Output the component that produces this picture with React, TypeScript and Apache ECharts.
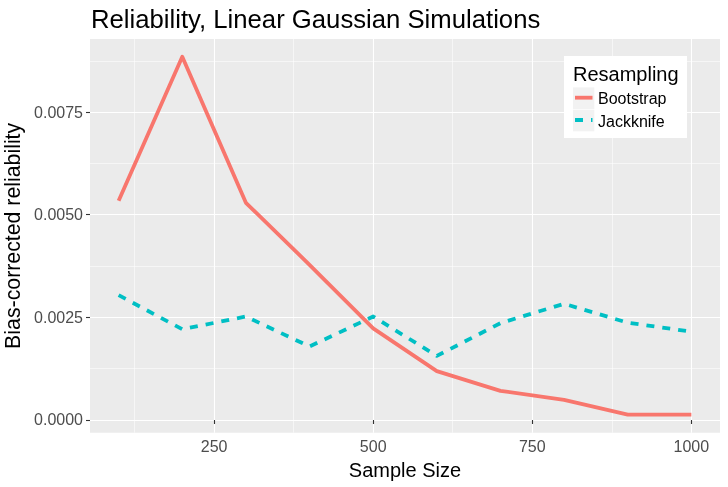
import React, { useEffect, useRef } from "react";
import * as echarts from "echarts";

const sampleSizes = [100, 200, 300, 400, 500, 600, 700, 800, 900, 1000];
const bootstrap = [0.00534, 0.00885, 0.00529, 0.00378, 0.00223, 0.00119, 0.00071, 0.00049, 0.00013, 0.00013];
const jackknife = [0.00304, 0.00221, 0.00252, 0.00179, 0.00252, 0.00156, 0.00236, 0.00283, 0.00237, 0.00215];
const seriesNames = ["Bootstrap", "Jackknife"];
const seriesColors = ["#F8766D", "#00BFC4"];
const xMajorTicks = [250, 500, 750, 1000];
const xMinorTicks = [125, 375, 625, 875];
const yMajorTicks = [0, 0.0025, 0.005, 0.0075];
const yMinorTicks = [0.00125, 0.00375, 0.00625, 0.00875];
const titleText = "Reliability, Linear Gaussian Simulations";
const xTitle = "Sample Size";
const yTitle = "Bias-corrected reliability";
const legendTitle = "Resampling";

const FONT = "'Liberation Sans', Arial, sans-serif";

export default function App() {
  const ref = useRef<HTMLDivElement>(null);
  useEffect(() => {
    if (!ref.current) return;
    const chart = echarts.init(ref.current, null, { renderer: "svg" });
    const xMin = 55, xMax = 1045;
    const yMin = -0.00031, yMax = 0.00928;
    const majorAxisX = {
      type: "value", min: xMin, max: xMax, position: "bottom",
      axisLine: { show: false },
      axisTick: { show: true, customValues: xMajorTicks, length: 4, lineStyle: { color: "#333333", width: 1.1 } },
      axisLabel: { show: true, customValues: xMajorTicks, fontSize: 16, color: "#4D4D4D", margin: 6, fontFamily: FONT,
        formatter: (v: number) => String(v) },
      splitLine: { show: true, lineStyle: { color: "#FFFFFF", width: 1.1 } },
      name: xTitle, nameLocation: "middle", nameGap: 26,
      nameTextStyle: { fontSize: 20, color: "#000000", fontFamily: FONT },
    };
    const minorAxisX = {
      type: "value", min: xMin, max: xMax, position: "bottom",
      axisLine: { show: false },
      axisTick: { show: false, customValues: xMinorTicks },
      axisLabel: { show: false, customValues: xMinorTicks },
      splitLine: { show: true, lineStyle: { color: "#FFFFFF", width: 0.55 } },
    };
    const majorAxisY = {
      type: "value", min: yMin, max: yMax, position: "left",
      axisLine: { show: false },
      axisTick: { show: true, customValues: yMajorTicks, length: 4, lineStyle: { color: "#333333", width: 1.1 } },
      axisLabel: { show: true, customValues: yMajorTicks, fontSize: 16, color: "#4D4D4D", margin: 7, fontFamily: FONT,
        formatter: (v: number) => v.toFixed(4) },
      splitLine: { show: true, lineStyle: { color: "#FFFFFF", width: 1.1 } },
      name: yTitle, nameLocation: "middle", nameGap: 57,
      nameTextStyle: { fontSize: 21.3, color: "#000000", fontFamily: FONT },
    };
    const minorAxisY = {
      type: "value", min: yMin, max: yMax, position: "left",
      axisLine: { show: false },
      axisTick: { show: false, customValues: yMinorTicks },
      axisLabel: { show: false, customValues: yMinorTicks },
      splitLine: { show: true, lineStyle: { color: "#FFFFFF", width: 0.55 } },
    };
    const seriesData = [bootstrap, jackknife];
    const legendGraphics: any[] = [
      { type: "rect", shape: { x: 564, y: 56, width: 123, height: 82 }, style: { fill: "#FFFFFF" }, z: 10 },
      { type: "text", x: 573, y: 74, style: { text: legendTitle, fontSize: 20, fill: "#000000", fontFamily: FONT, textVerticalAlign: "middle" }, z: 11 },
    ];
    seriesNames.forEach((name, i) => {
      const cy = 98.2 + i * 22.3;
      legendGraphics.push(
        { type: "rect", shape: { x: 573, y: cy - 10.8, width: 21.3, height: 21.6 }, style: { fill: "#F2F2F2" }, z: 11 },
        { type: "line", shape: { x1: 575, y1: cy - 0.5, x2: 592.5, y2: cy - 0.5 },
          style: { stroke: seriesColors[i], lineWidth: 3.8, lineDash: i === 1 ? [8, 8] : null, lineCap: "butt" }, z: 12 },
        { type: "text", x: 598, y: cy + 0.5, style: { text: name, fontSize: 16, fill: "#000000", fontFamily: FONT, textVerticalAlign: "middle" }, z: 12 },
      );
    });
    chart.setOption({
      animation: false,
      textStyle: { fontFamily: FONT },
      title: {
        text: titleText, left: 91, top: 5.5, padding: 0,
        textStyle: { fontSize: 25.7, fontWeight: "normal", color: "#000000", fontFamily: FONT },
      },
      grid: { left: 90, right: 8, top: 39, bottom: 54.3, show: true, backgroundColor: "#EBEBEB", borderWidth: 0,
        containLabel: false, outerBoundsMode: "none" },
      xAxis: [majorAxisX, minorAxisX],
      yAxis: [majorAxisY, minorAxisY],
      series: seriesNames.map((name, i) => ({
        name, type: "line", xAxisIndex: 0, yAxisIndex: 0, symbol: "none",
        data: sampleSizes.map((x, j) => [x, seriesData[i][j]]),
        lineStyle: { color: seriesColors[i], width: 3.8, type: i === 1 ? [8, 8] : "solid", cap: "butt", join: "round" },
        z: 5,
      })),
      graphic: legendGraphics,
    });
    return () => chart.dispose();
  }, []);
  return <div ref={ref} style={{ position: "fixed", left: 0, top: 0, width: 728, height: 487 }} />;
}
